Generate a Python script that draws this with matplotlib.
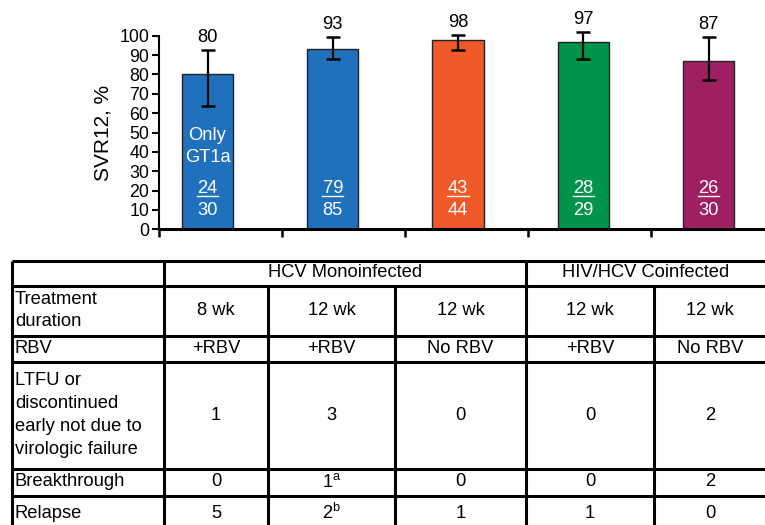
import matplotlib
matplotlib.use("Agg")
import matplotlib.pyplot as plt
import numpy as np

plt.rcParams["font.family"] = ["Liberation Sans", "DejaVu Sans"]
plt.rcParams["mathtext.fontset"] = "custom"
plt.rcParams["mathtext.rm"] = "Liberation Sans"

# SVR12 by arm
svr = [80, 93, 98, 97, 87]
ci_low = [63.7, 87.9, 92.4, 87.9, 77.0]
ci_high = [92.5, 99.3, 100.5, 102.0, 99.3]
responders = [24, 79, 43, 28, 26]
totals = [30, 85, 44, 29, 30]
bar_colors = ["#1f71bd", "#1f71bd", "#f05a28", "#00934a", "#9e1f62"]

# table contents
group_labels = ["HCV Monoinfected", "HIV/HCV Coinfected"]
row_labels = [
    ["Treatment", "duration"],
    ["RBV"],
    ["LTFU or", "discontinued", "early not due to", "virologic failure"],
    ["Breakthrough"],
    ["Relapse"],
]
duration = ["8 wk", "12 wk", "12 wk", "12 wk", "12 wk"]
rbv = ["+RBV", "+RBV", "No RBV", "+RBV", "No RBV"]
ltfu = ["1", "3", "0", "0", "2"]
breakthrough = ["0", "1$^{\\mathrm{a}}$", "0", "0", "2"]
relapse = ["5", "2$^{\\mathrm{b}}$", "1", "1", "0"]

W, H = 765, 525
fig = plt.figure(figsize=(W / 100, H / 100), dpi=100)

# ---- bar chart ----
x0_px, y0_px, y100_px = 159, 229.3, 35.7
ax = fig.add_axes([x0_px / W, (H - y0_px) / H, 1 - x0_px / W, (y0_px - y100_px) / H])
x = np.arange(len(svr))
ax.bar(x, svr, width=0.41, color=bar_colors, edgecolor="#222222", linewidth=1.0, zorder=2)
yerr = [np.array(svr) - np.array(ci_low), np.array(ci_high) - np.array(svr)]
ax.errorbar(x, svr, yerr=yerr, fmt="none", ecolor="black", elinewidth=1.6,
            capsize=4.8, capthick=1.8, zorder=3, clip_on=False)

fs = 13.2
for xi, v, hi in zip(x, svr, ci_high):
    ax.text(xi, hi + 6.5, str(v), ha="center", va="center", fontsize=fs, clip_on=False)

for xi, n, d in zip(x, responders, totals):
    ax.text(xi, 21.3, str(n), ha="center", va="center", fontsize=fs, color="white", zorder=4)
    ax.plot([xi - 0.085, xi + 0.085], [17.2, 17.2], color="white", lw=1.0, zorder=4)
    ax.text(xi, 9.6, str(d), ha="center", va="center", fontsize=fs, color="white", zorder=4)

ax.text(x[0], 48.6, "Only", ha="center", va="center", fontsize=fs, color="white", zorder=4)
ax.text(x[0], 37.3, "GT1a", ha="center", va="center", fontsize=fs, color="white", zorder=4)

xmin = (x0_px - 207.5) / 125.25
xmax = (W - 207.5) / 125.25
ax.set_xlim(xmin, xmax)
ax.set_ylim(0, 100)
ax.set_yticks(np.arange(0, 101, 10))
ax.set_xticks(xmin + 0.982 * np.arange(5))
ax.set_xticklabels([])
ax.tick_params(axis="y", direction="out", length=5, width=1.5, labelsize=12.8, pad=2)
ax.tick_params(axis="x", direction="out", length=6, width=1.8)
ax.spines["top"].set_visible(False)
ax.spines["right"].set_visible(False)
ax.spines["left"].set_linewidth(1.5)
ax.spines["bottom"].set_linewidth(2.2)
ax.set_ylabel("SVR12, %", fontsize=15, labelpad=5)

# ---- table below, drawn in pixel coordinates ----
tab = fig.add_axes([0, 0, 1, 1])
tab.set_xlim(0, W)
tab.set_ylim(H, 0)
tab.axis("off")

cols = [12, 164, 268, 395, 526, 654, 766]
rows = [260.5, 285.5, 335.5, 361.5, 468.5, 495.5, 532]
lw = 2.2
for yy in rows[:-1]:
    tab.plot([cols[0], cols[-1]], [yy, yy], color="black", lw=lw, solid_capstyle="butt")
for cx in cols[:-1]:
    top = rows[0] if cx in (12, 164, 526) else rows[1]
    tab.plot([cx, cx], [top, rows[-1]], color="black", lw=lw, solid_capstyle="butt")

tab.text((cols[1] + cols[4]) / 2, 272.5, group_labels[0], ha="center", va="center", fontsize=fs)
tab.text((cols[4] + cols[6]) / 2, 272.5, group_labels[1], ha="center", va="center", fontsize=fs)

line_gap = 23
row_mid = [(rows[i + 1] + rows[i + 2]) / 2 for i in range(5)]
row_mid[4] = 513
for i, lines in enumerate(row_labels):
    n = len(lines)
    for k, ln in enumerate(lines):
        yy = row_mid[i] + (k - (n - 1) / 2) * line_gap
        tab.text(15, yy, ln, ha="left", va="center", fontsize=fs)

for i, vals in enumerate([duration, rbv, ltfu, breakthrough, relapse]):
    for j, v in enumerate(vals):
        cx = (cols[j + 1] + cols[j + 2]) / 2
        tab.text(cx, row_mid[i], v, ha="center", va="center", fontsize=fs)

fig.savefig("out.png", dpi=100)
